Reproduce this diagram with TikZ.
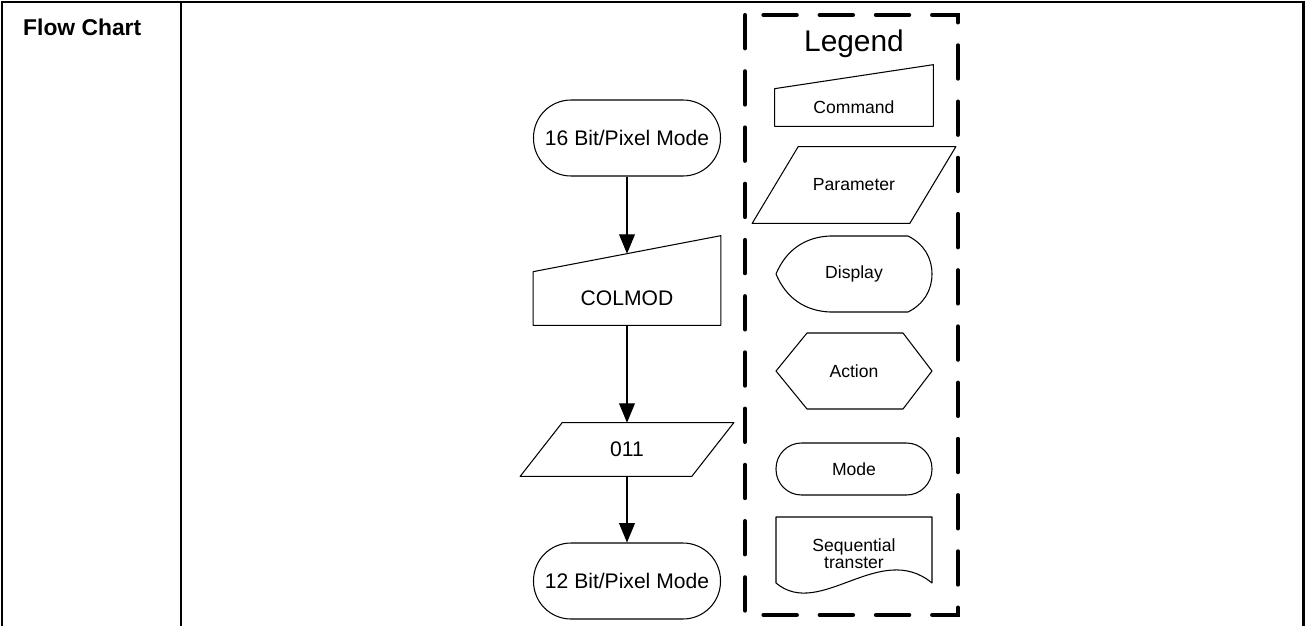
\documentclass[tikz,border=0pt]{standalone}
\usepackage{fontspec}
\setmainfont{Liberation Sans}
\usepackage{tikz}
\usetikzlibrary{arrows.meta, positioning, calc}

\begin{document}
\begin{tikzpicture}[x=0.02cm, y=-0.02cm, >={Triangle[length=11pt, width=9pt]},
    outline/.style={line width=0.6pt, line join=round},
    flow/.style={->, line width=0.6pt},
    modebox/.style={draw, line width=0.6pt, rounded corners=0.75cm, minimum width=3.74cm,
        minimum height=1.52cm, font=\fontsize{12}{14}\selectfont},
    textbox/.style={inner sep=0pt, font=\fontsize{12}{14}\selectfont},
    legtext/.style={inner sep=0pt, align=center, font=\fontsize{10}{9.8}\selectfont}]

\useasboundingbox (0,0) rectangle (1305,626);

% ── Table frame ──────────────────────────────────────────────────
\draw[line width=1.7pt] (2,626) -- (2,2) -- (1303,2) -- (1303,626);
\draw[line width=1.7pt] (181,2) -- (181,626);
\node[anchor=west, font=\bfseries\fontsize{13}{15}\selectfont] (title) at (17,27) {Flow Chart};

% ── Flow ─────────────────────────────────────────────────────────
\node[modebox] (m16) at (627,138) {16 Bit/Pixel Mode};

\node[textbox, minimum width=3.74cm, minimum height=1.06cm] (colmod) at (627,298.5) {COLMOD};
\draw[outline] (colmod.north west) -- (colmod.south west) -- (colmod.south east)
    -- ([yshift=0.72cm]colmod.north east) -- cycle;
\coordinate (colmod-in) at ($(colmod.north west)!0.5!([yshift=0.72cm]colmod.north east)$);

\node[textbox, minimum width=3.42cm, minimum height=1.06cm] (p011) at (627,449.5) {011};
\draw[outline] ([xshift=0.42cm]p011.north west) -- ([xshift=0.42cm]p011.north east)
    -- ([xshift=-0.42cm]p011.south east) -- ([xshift=-0.42cm]p011.south west) -- cycle;

\node[modebox] (m12) at (627,581) {12 Bit/Pixel Mode};

% Arrows
\foreach \a/\b in {m16/colmod-in, colmod/p011, p011/m12}
    \draw[flow] (\a) -- (\b);

% ── Legend ───────────────────────────────────────────────────────
\draw[line width=2.3pt, line cap=round, dash pattern=on 19pt off 13pt]
    (745,15) -- (745,615) -- (958,615) -- (958,15) -- cycle;
\node[font=\fontsize{17}{20}\selectfont] (legend) at (854,44) {Legend};

% Command
\node[legtext, minimum width=3.16cm, minimum height=0.74cm] (lcmd) at (854,107.5) {Command};
\draw[outline] (lcmd.north west) -- (lcmd.south west) -- (lcmd.south east)
    -- ([yshift=0.48cm]lcmd.north east) -- cycle;

% Parameter
\node[legtext, minimum width=3.14cm, minimum height=1.52cm] (lpar) at (854,185) {Parameter};
\draw[outline] ([xshift=0.46cm]lpar.north west) -- ([xshift=0.46cm]lpar.north east)
    -- ([xshift=-0.46cm]lpar.south east) -- ([xshift=-0.46cm]lpar.south west) -- cycle;

% Display
\node[legtext] (ldisp) at (854,274) {Display};
\draw[outline] (776,274) .. controls (786,250) and (805,237) .. (830,236) -- (908,236)
    .. controls (924,244) and (932,258) .. (932,274)
    .. controls (932,290) and (924,304) .. (908,312) -- (830,312)
    .. controls (805,311) and (786,298) .. (776,274) -- cycle;

% Action
\node[legtext] (lact) at (854,371) {Action};
\draw[outline] (776,371) -- (807,333) -- (903,333) -- (932,371) -- (903,409) -- (807,409) -- cycle;

% Mode
\node[legtext, draw, line width=0.6pt, rounded corners=0.51cm, minimum width=3.12cm,
    minimum height=1.04cm] (lmode) at (854,469) {Mode};

% Sequential transfer
\node[legtext] (lseq) at (854,554) {Sequential\\transter};
\draw[outline] (776,517) -- (932,517) -- (932,583)
    .. controls (880,540) and (820,620) .. (776,583) -- cycle;

\end{tikzpicture}
\end{document}
